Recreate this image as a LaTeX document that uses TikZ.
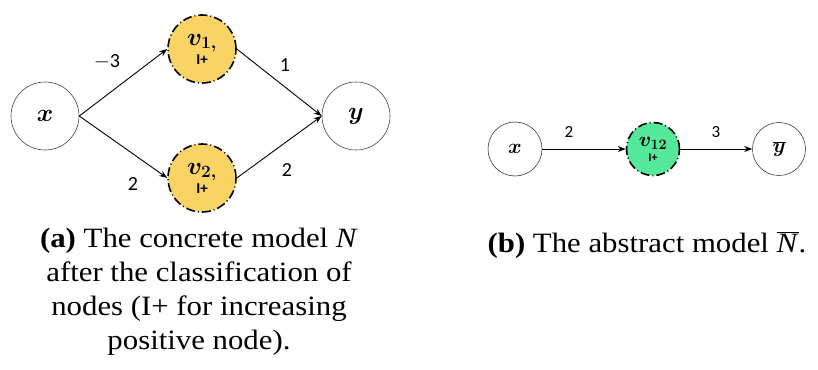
\documentclass[tikz,border=0pt]{standalone}
\usepackage{fontspec}
\setmainfont{Liberation Serif}[FakeStretch=1.1]
\newfontfamily\lblfont{Carlito}
\usetikzlibrary{arrows.meta}
\DeclareMathSizes{24.88}{24.88}{17.28}{12}
\DeclareMathSizes{20.74}{20.74}{14.4}{10}
\definecolor{gold}{RGB}{249,212,100}
\definecolor{mint}{RGB}{84,232,154}
\newcommand{\bigmath}{\fontsize{24.88}{25}\selectfont\boldmath}
\newcommand{\smallmath}{\fontsize{20.74}{21}\selectfont\boldmath}
\newcommand{\tagbig}{\lblfont\bfseries\fontsize{15}{15}\selectfont}
\newcommand{\tagsmall}{\lblfont\bfseries\fontsize{12}{12}\selectfont}
\tikzset{
  plainnode/.style={circle, draw=black!75, line width=0.6pt, inner sep=0pt, fill=white},
  hiddennode/.style={circle, draw=black, line width=1.6pt, dash pattern=on 9pt off 3pt on 1pt off 3pt, inner sep=0pt, align=center},
  conn/.style={-{Stealth[length=8pt,width=6pt]}, line width=0.9pt},
  wlabel/.style={font=\lblfont\fontsize{20}{22}\selectfont},
  wlabelsmall/.style={font=\lblfont\fontsize{17}{19}\selectfont},
  captext/.style={align=center, font=\fontsize{28}{34}\selectfont}
}
\begin{document}
\begin{tikzpicture}[x=1pt,y=-1pt]
\useasboundingbox (0,0) rectangle (818,369);
% (a) concrete model
\node[plainnode, minimum size=68pt, font=\bigmath] (nx) at (45,116) {$x$};
\node[hiddennode, fill=gold, minimum size=68pt, font=\bigmath] (v1) at (202,49) {$v_{1,}$\\[-6pt]{\tagbig I+}};
\node[hiddennode, fill=gold, minimum size=68pt, font=\bigmath] (v2) at (202,178) {$v_{2,}$\\[-6pt]{\tagbig I+}};
\node[plainnode, minimum size=68pt, font=\bigmath] (ny) at (356,116) {$y$};
\draw[conn] (nx.east) -- (v1.west);
\draw[conn] (nx.east) -- (v2.west);
\draw[conn] (v1.east) -- (ny.west);
\draw[conn] (v2.east) -- (ny.west);
\node[wlabel] (l1) at (107,62) {$-$3};
\node[wlabel] (l2) at (133,184) {2};
\node[wlabel] (l3) at (285,65) {1};
\node[wlabel] (l4) at (287,170) {2};
\node[captext] (capa) at (199,292) {\textbf{(a)} The concrete model \textit{N}\\ after the classification of\\ nodes (I+ for increasing\\ positive node).};
% (b) abstract model
\node[plainnode, minimum size=54pt, font=\smallmath] (ax) at (515,149) {$x$};
\node[hiddennode, fill=mint, minimum size=53pt, font=\smallmath] (v12) at (653,149) {$v_{12}$\\[-6pt]{\tagsmall I+}};
\node[plainnode, minimum size=53pt, font=\smallmath] (ay) at (779,149) {$\overline{y}$};
\draw[conn] (ax.east) -- (v12.west);
\draw[conn] (v12.east) -- (ay.west);
\node[wlabelsmall] (l5) at (569,132) {2};
\node[wlabelsmall] (l6) at (716,132) {3};
\node[captext] (capb) at (647,245) {\textbf{(b)} The abstract model $\overline{\mbox{\textit{N}}}$.};
\end{tikzpicture}
\end{document}
